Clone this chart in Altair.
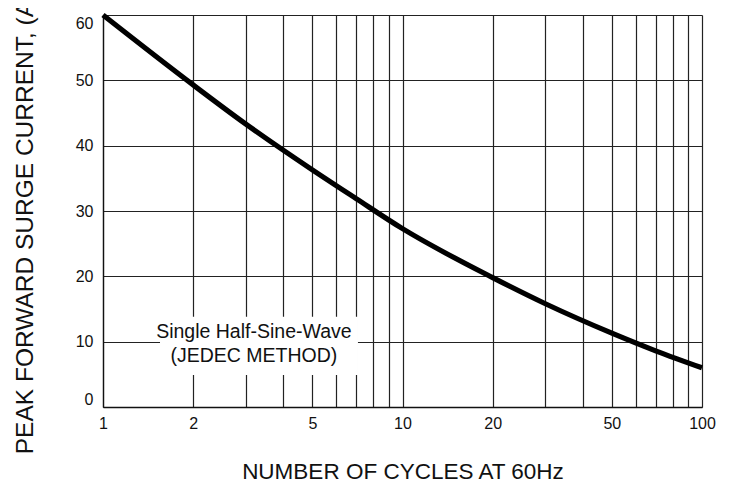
import altair as alt
import pandas as pd

# Curve data (smoothed readings)
cycles = [1, 2, 3, 5, 7, 10, 20, 30, 50, 70, 100]
current = [60, 49.3, 43.3, 36.3, 31.9, 27.3, 19.8, 15.8, 11.3, 8.6, 6.0]

x_grid_values = [1, 2, 3, 4, 5, 6, 7, 8, 9, 10, 20, 30, 40, 50, 60, 70, 80, 90, 100]
x_label_values = [1, 2, 5, 10, 20, 50, 100]
y_values = [0, 10, 20, 30, 40, 50, 60]

ann_lines = ["Single Half-Sine-Wave", "(JEDEC METHOD)"]
ann_x = [3.19, 3.19]
ann_y = [10.56, 6.9]
box_x = [1.55]
box_x2 = [7.10]
box_y = [4.9]
box_y2 = [13.8]

FONT = "Liberation Sans"

df = pd.DataFrame({"cycles": cycles, "current": current})
ann = pd.DataFrame({"text": ann_lines, "x": ann_x, "y": ann_y})
box = pd.DataFrame({"x": box_x, "x2": box_x2, "y": box_y, "y2": box_y2})

xscale = alt.Scale(type="log", domain=[1, 100], nice=False)
yscale = alt.Scale(domain=[0, 60], nice=False, zero=True)

label_list = ",".join(str(v) for v in x_label_values)

line = alt.Chart(df).mark_line(color="black", strokeWidth=5.2, interpolate="monotone").encode(
    x=alt.X("cycles:Q", scale=xscale,
            axis=alt.Axis(values=x_grid_values, title="NUMBER OF CYCLES AT 60Hz",
                          labelExpr=f"indexof([{label_list}], datum.value) >= 0 ? datum.value + '' : ''",
                          grid=True, ticks=False, labelPadding=8, labelFontSize=16,
                          titleFontSize=22.5, titleFontWeight="normal",
                          titleY=71, titleBaseline="alphabetic", labelFlush=False)),
    y=alt.Y("current:Q", scale=yscale,
            axis=alt.Axis(values=y_values, title="PEAK FORWARD SURGE CURRENT, (A)",
                          grid=True, ticks=False, labelPadding=10, labelFontSize=16,
                          labelFlush=True,
                          titleFontSize=24.5, titleFontWeight="normal",
                          titleX=-71, titleY=208, titleAngle=270,
                          titleBaseline="alphabetic", titleAlign="center")),
)

rect = alt.Chart(box).mark_rect(color="white").encode(
    x=alt.X("x:Q", scale=xscale), x2="x2:Q",
    y=alt.Y("y:Q", scale=yscale), y2="y2:Q",
)

text = alt.Chart(ann).mark_text(fontSize=19.5, font=FONT, color="#111", align="center",
                                baseline="alphabetic").encode(
    x=alt.X("x:Q", scale=xscale),
    y=alt.Y("y:Q", scale=yscale),
    text="text:N",
)

chart = alt.layer(rect, text, line).properties(
    width=599, height=392,
    autosize=alt.AutoSizeParams(type="none"),
    padding={"left": 95, "top": 7, "right": 22, "bottom": 78},
    background="white",
).configure_view(stroke=None).configure_axis(
    gridColor="#222", gridWidth=1.2, gridOpacity=1,
    domainColor="#111", domainWidth=1.3,
    labelColor="#111", titleColor="#111",
    labelFont=FONT, titleFont=FONT,
)

chart.save("out.html", embed_options={"renderer": "svg", "actions": False})
